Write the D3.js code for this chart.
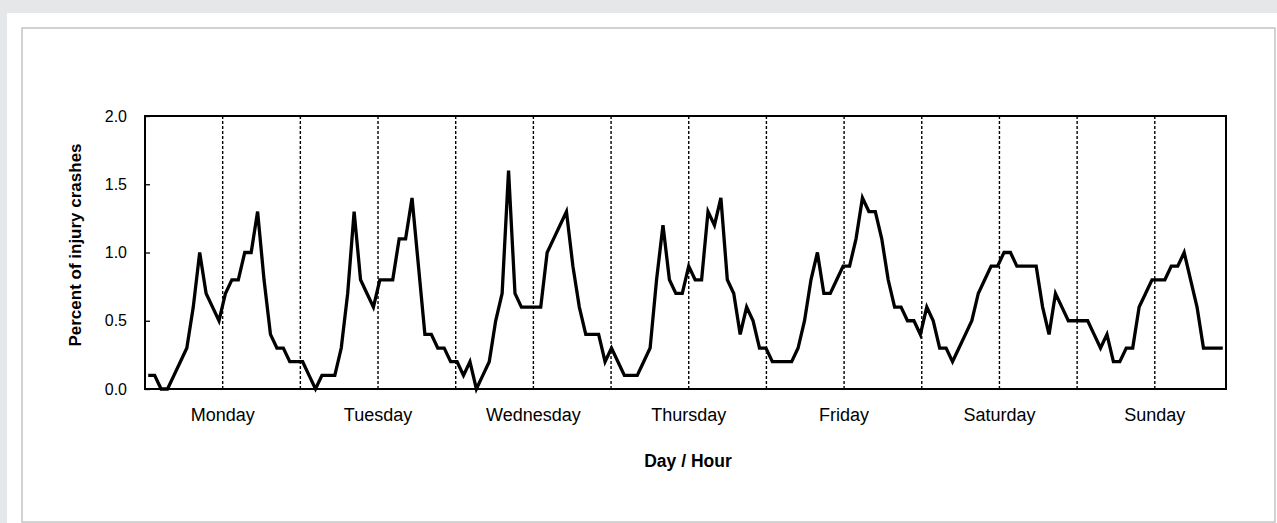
<!DOCTYPE html>
<html>
<head>
<meta charset="utf-8">
<script src="https://cdn.jsdelivr.net/npm/d3@7"></script>
<style>
  html, body { margin: 0; padding: 0; background: #e6e7e9; overflow: hidden; }
  svg { display: block; font-family: "Liberation Sans", Arial, sans-serif; }
</style>
</head>
<body>
<div id="chart"></div>
<script>
const width = 1277;
const height = 523;
const margins = { top: 116, bottom: 134, left: 145, right: 51 };

const days = ["Monday", "Tuesday", "Wednesday", "Thursday", "Friday", "Saturday", "Sunday"];
const yTicks = [0, 0.5, 1.0, 1.5, 2.0];

// percent of injury crashes per hour (0-23) for each day
const monday = [0.1, 0.1, 0, 0, 0.1, 0.2, 0.3, 0.6, 1.0, 0.7, 0.6, 0.5, 0.7, 0.8, 0.8, 1.0, 1.0, 1.3, 0.8, 0.4, 0.3, 0.3, 0.2, 0.2];
const tuesday = [0.2, 0.1, 0, 0.1, 0.1, 0.1, 0.3, 0.7, 1.3, 0.8, 0.7, 0.6, 0.8, 0.8, 0.8, 1.1, 1.1, 1.4, 0.9, 0.4, 0.4, 0.3, 0.3, 0.2];
const wednesday = [0.2, 0.1, 0.2, 0, 0.1, 0.2, 0.5, 0.7, 1.6, 0.7, 0.6, 0.6, 0.6, 0.6, 1.0, 1.1, 1.2, 1.3, 0.9, 0.6, 0.4, 0.4, 0.4, 0.2];
const thursday = [0.3, 0.2, 0.1, 0.1, 0.1, 0.2, 0.3, 0.8, 1.2, 0.8, 0.7, 0.7, 0.9, 0.8, 0.8, 1.3, 1.2, 1.4, 0.8, 0.7, 0.4, 0.6, 0.5, 0.3];
const friday = [0.3, 0.2, 0.2, 0.2, 0.2, 0.3, 0.5, 0.8, 1.0, 0.7, 0.7, 0.8, 0.9, 0.9, 1.1, 1.4, 1.3, 1.3, 1.1, 0.8, 0.6, 0.6, 0.5, 0.5];
const saturday = [0.4, 0.6, 0.5, 0.3, 0.3, 0.2, 0.3, 0.4, 0.5, 0.7, 0.8, 0.9, 0.9, 1.0, 1.0, 0.9, 0.9, 0.9, 0.9, 0.6, 0.4, 0.7, 0.6, 0.5];
const sunday = [0.5, 0.5, 0.5, 0.4, 0.3, 0.4, 0.2, 0.2, 0.3, 0.3, 0.6, 0.7, 0.8, 0.8, 0.8, 0.9, 0.9, 1.0, 0.8, 0.6, 0.3, 0.3, 0.3, 0.3];

const values = [].concat(monday, tuesday, wednesday, thursday, friday, saturday, sunday);
const hours = values.length;

const innerWidth = width - margins.left - margins.right;
const innerHeight = height - margins.top - margins.bottom;

// SCALES
// line points sit in the middle of each hour slot
const hourScale = d3.scaleLinear().domain([0, hours]).range([0, innerWidth]);
// the 12-hour dividers and day labels run on a 0..167 scale across the frame
const dividerScale = d3.scaleLinear().domain([0, hours - 1]).range([0, innerWidth]);
const percentScale = d3.scaleLinear().domain([0, 2]).range([innerHeight, 0]);

// SVG + PANEL
const svg = d3
  .select("#chart")
  .append("svg")
  .attr("width", width)
  .attr("height", height);

svg
  .append("rect")
  .attr("x", 7)
  .attr("y", 13)
  .attr("width", width - 7)
  .attr("height", height - 13)
  .attr("fill", "#ffffff");

svg
  .append("rect")
  .attr("x", 22)
  .attr("y", 28)
  .attr("width", 1253)
  .attr("height", 494)
  .attr("fill", "none")
  .attr("stroke", "#c4c4c4")
  .attr("stroke-width", 1.5);

const innerChart = svg
  .append("g")
  .attr("transform", `translate(${margins.left},${margins.top})`);

// DASHED 12-HOUR LINES
innerChart
  .selectAll("line.divider")
  .data(d3.range(12, hours, 12))
  .join("line")
  .attr("class", "divider")
  .attr("x1", (d) => dividerScale(d))
  .attr("x2", (d) => dividerScale(d))
  .attr("y1", 0)
  .attr("y2", innerHeight)
  .attr("stroke", "#000")
  .attr("stroke-width", 1.4)
  .attr("stroke-dasharray", "3,2");

// Y AXIS
const yAxis = d3
  .axisLeft(percentScale)
  .tickValues(yTicks)
  .tickFormat(d3.format(".1f"))
  .tickSize(-5)
  .tickPadding(18);

innerChart
  .append("g")
  .attr("class", "y-axis")
  .call(yAxis)
  .call((g) => g.select(".domain").remove())
  .call((g) => g.selectAll("line").attr("stroke", "#000").attr("stroke-width", 1.3))
  .call((g) =>
    g
      .selectAll("text")
      .attr("fill", "#000")
      .style("font-size", "16px")
      .style("font-family", "'Liberation Sans', Arial, sans-serif")
  );

// LINE
const lineGenerator = d3
  .line()
  .x((d, i) => hourScale(i + 0.5))
  .y((d) => percentScale(d));

innerChart
  .append("path")
  .attr("d", lineGenerator(values))
  .attr("fill", "none")
  .attr("stroke", "#000")
  .attr("stroke-width", 3.3);

// FRAME
innerChart
  .append("rect")
  .attr("width", innerWidth)
  .attr("height", innerHeight)
  .attr("fill", "none")
  .attr("stroke", "#000")
  .attr("stroke-width", 2);

// DAY LABELS
innerChart
  .selectAll("text.day")
  .data(days)
  .join("text")
  .attr("class", "day")
  .text((d) => d)
  .attr("x", (d, i) => dividerScale(i * 24 + 12))
  .attr("y", innerHeight + 32)
  .attr("text-anchor", "middle")
  .style("font-size", "18px");

// AXIS TITLES
svg
  .append("text")
  .text("Day / Hour")
  .attr("x", 688)
  .attr("y", 467)
  .attr("text-anchor", "middle")
  .style("font-size", "17.5px")
  .style("font-weight", "bold");

svg
  .append("text")
  .text("Percent of injury crashes")
  .attr("transform", `translate(81,245) rotate(-90)`)
  .attr("text-anchor", "middle")
  .style("font-size", "17px")
  .style("font-weight", "bold");
</script>
</body>
</html>
